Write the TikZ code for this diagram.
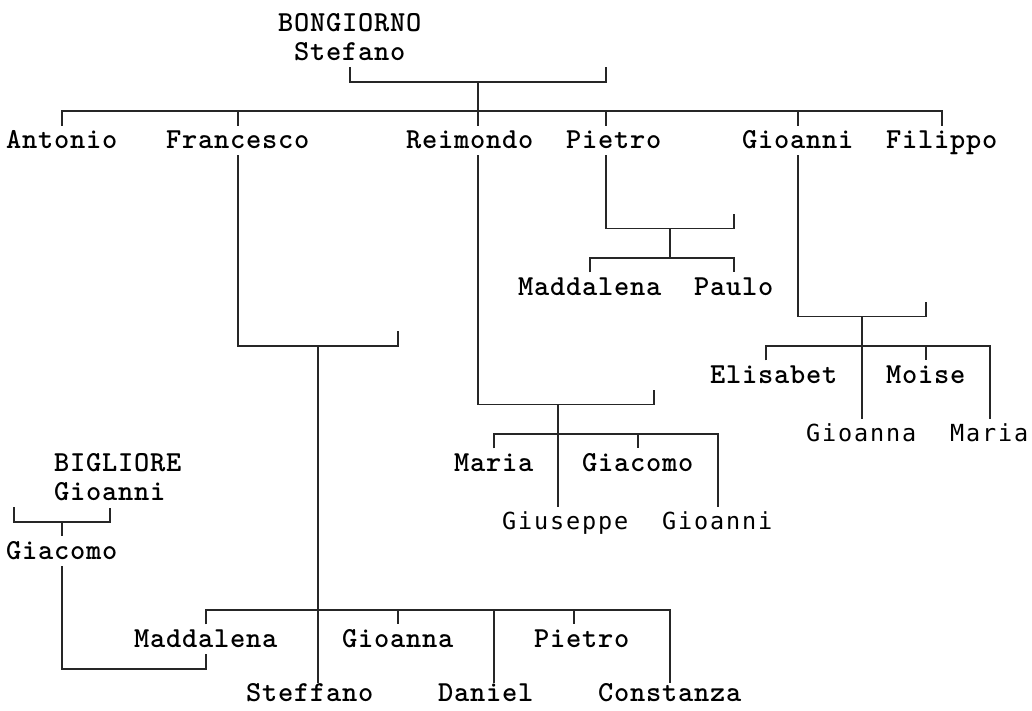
\documentclass[tikz,border=0pt]{standalone}
\usepackage{fontspec}
\newfontfamily\regfont{lmmonolt10-bold.otf}[LetterSpace=2.7]
\newfontfamily\fallfont{DejaVu Sans Mono}[LetterSpace=7.9]
\tikzset{
  person/.style={anchor=west,xshift=-8pt,inner sep=0pt,text height=22.7pt,text depth=6.7pt,
    font=\regfont\fontsize{29pt}{32pt}\selectfont},
  fallback/.style={person,font=\fallfont\fontsize{23.5pt}{27pt}\selectfont},
  lastrow/.style={text depth=0pt,text height=18pt,yshift=6pt},
  link/.style={draw=black!85,line width=1.7pt}
}

\begin{document}
\begin{tikzpicture}[x=16pt,y=-29.35pt]
  \useasboundingbox (-0.875,-0.784) rectangle (63.625,23.407);

  \node[person] (bon) at (17,0) {BONGIORNO};
  \node[person] (ste) at (18,1) {Stefano};
  \node[person] (ant) at (0,4) {Antonio};
  \node[person] (fra) at (10,4) {Francesco};
  \node[person] (rei) at (25,4) {Reimondo};
  \node[person] (pie) at (35,4) {Pietro};
  \node[person] (gio) at (46,4) {Gioanni};
  \node[person] (fil) at (55,4) {Filippo};

  \node[person] (mad1) at (32,9) {Maddalena};
  \node[person] (pau) at (43,9) {Paulo};

  \node[person] (eli) at (44,12) {Elisabet};
  \node[person] (moi) at (55,12) {Moise};
  \node[fallback] (gna1) at (50,14) {Gioanna};
  \node[fallback] (mar2) at (59,14) {Maria};

  \node[person] (mar1) at (28,15) {Maria};
  \node[person] (gia1) at (36,15) {Giacomo};
  \node[fallback] (giu) at (31,17) {Giuseppe};
  \node[fallback] (gio2) at (41,17) {Gioanni};

  \node[person] (big) at (3,15) {BIGLIORE};
  \node[person] (gio3) at (3,16) {Gioanni};
  \node[person] (gia2) at (0,18) {Giacomo};

  \node[person] (mad2) at (8,21) {Maddalena};
  \node[person] (gna2) at (21,21) {Gioanna};
  \node[person] (pie2) at (33,21) {Pietro};
  \node[person,lastrow] (stf) at (15,23) {Steffano};
  \node[person,lastrow] (dan) at (27,23) {Daniel};
  \node[person,lastrow] (con) at (37,23) {Constanza};

  \coordinate (steM) at (29,2);  \coordinate (steP) at (37,1.5);  \coordinate (sib) at (29,3);
  \coordinate (pieC) at (37,7);  \coordinate (pieP) at (45,6.5);  \coordinate (pieM) at (41,7);  \coordinate (pieK) at (41,8);
  \coordinate (pieL) at (36,8);  \coordinate (pieR) at (45,8);
  \coordinate (gioC) at (49,10); \coordinate (gioP) at (57,9.5);  \coordinate (gioM) at (53,10); \coordinate (gioK) at (53,11);
  \coordinate (eliK) at (47,11); \coordinate (moiK) at (57,11); \coordinate (gioR) at (61,11);
  \coordinate (reiC) at (29,13); \coordinate (reiP) at (40,12.5); \coordinate (reiM) at (34,13); \coordinate (reiK) at (34,14);
  \coordinate (reiL) at (30,14); \coordinate (giaK) at (39,14); \coordinate (reiR) at (44,14);
  \coordinate (fraC) at (14,11); \coordinate (fraP) at (24,10.5); \coordinate (fraM) at (19,11); \coordinate (fraK) at (19,20);
  \coordinate (madK) at (12,20); \coordinate (gnaK) at (24,20); \coordinate (danK) at (30,20); \coordinate (pie2K) at (35,20);
  \coordinate (conK) at (41,20); \coordinate (lowK) at (0,22.5);
  \coordinate (bigP) at (0,16.5); \coordinate (bigM) at (3,17); \coordinate (bigR) at (6,17); \coordinate (marB) at (3,22);
  \coordinate (marE) at (12,22);
  \coordinate (antK) at (3,3); \coordinate (fraK0) at (14,3); \coordinate (pieK0) at (37,3); \coordinate (gioK0) at (49,3);
  \coordinate (filK) at (58,3);

  \draw[link] (ste.south) |- (steM) -| (steP);
  \draw[link] (steM) -- (sib);
  \draw[link] (antK |- ant.north) -- (antK) -- (filK) -- (filK |- fil.north);
  \draw[link] (fraK0) -- (fraK0 |- fra.north);
  \draw[link] (sib) -- (sib |- rei.north);
  \draw[link] (pieK0) -- (pieK0 |- pie.north);
  \draw[link] (gioK0) -- (gioK0 |- gio.north);

  \draw[link] (pieC |- pie.south) -- (pieC) -| (pieP);
  \draw[link] (pieM) -- (pieK);
  \draw[link] (pieL |- mad1.north) -- (pieL) -- (pieR) -- (pieR |- pau.north);

  \draw[link] (gioC |- gio.south) -- (gioC) -| (gioP);
  \draw[link] (gioM) -- (gioK |- gna1.north);
  \draw[link] (eliK |- eli.north) -- (eliK) -- (gioR) -- (gioR |- mar2.north);
  \draw[link] (moiK) -- (moiK |- moi.north);

  \draw[link] (reiC |- rei.south) -- (reiC) -| (reiP);
  \draw[link] (reiM) -- (reiK |- giu.north);
  \draw[link] (reiL |- mar1.north) -- (reiL) -- (reiR) -- (reiR |- gio2.north);
  \draw[link] (giaK) -- (giaK |- gia1.north);

  \draw[link] (fraC |- fra.south) -- (fraC) -| (fraP);
  \draw[link] (fraM) -- (fraM |- lowK);
  \draw[link] (madK |- mad2.north) -- (madK) -- (conK) -- (conK |- lowK);
  \draw[link] (gnaK) -- (gnaK |- gna2.north);
  \draw[link] (danK) -- (danK |- lowK);
  \draw[link] (pie2K) -- (pie2K |- pie2.north);

  \draw[link] (bigP) |- (bigM) -- (bigR) -- (bigR |- gio3.south);
  \draw[link] (bigM) -- (bigM |- gia2.north);
  \draw[link] (bigM |- gia2.south) -- (marB) -- (marE) -- (marE |- mad2.south);
\end{tikzpicture}
\end{document}
